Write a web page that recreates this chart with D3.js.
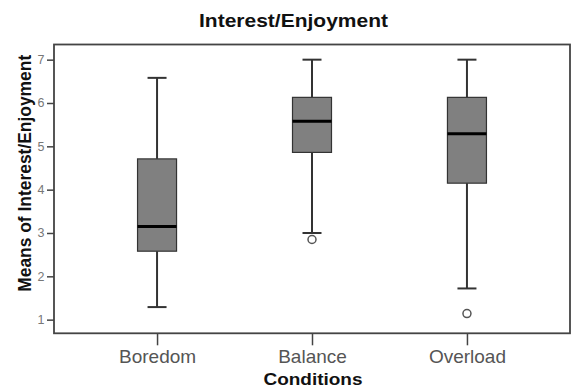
<!DOCTYPE html>
<html><head><meta charset="utf-8">
<script src="https://cdn.jsdelivr.net/npm/d3@7"></script>
<style>body{margin:0;background:#fff}svg{display:block}</style>
</head><body>
<script>
const categories = ["Boredom", "Balance", "Overload"];
const whiskerLow  = [1.29, 3.00, 1.72];
const q1          = [2.58, 4.86, 4.15];
const medians     = [3.15, 5.58, 5.29];
const q3          = [4.71, 6.13, 6.13];
const whiskerHigh = [6.58, 7.00, 7.00];
const outliers    = [[], [2.85], [1.14]];
const yTicks = [1, 2, 3, 4, 5, 6, 7];

const W = 571, H = 387;
const L = 54, R = 570, T = 44.5, B = 333.3;
const svg = d3.select("body").append("svg").attr("width", W).attr("height", H);

const x = d3.scalePoint().domain(categories).range([L, R]).padding(0.665);
const y = d3.scaleLinear().domain([0.685, 7.35]).range([B, T]);

const font = "'Liberation Sans', Arial, sans-serif";

// title
svg.append("text").attr("x", 199).attr("y", 27.3)
  .attr("textLength", 189).attr("lengthAdjust", "spacingAndGlyphs")
  .style("font", `bold 19px ${font}`).attr("fill", "#111").text("Interest/Enjoyment");

// frame
svg.append("rect").attr("x", L).attr("y", T).attr("width", R - L).attr("height", B - T)
  .attr("fill", "none").attr("stroke", "#444").attr("stroke-width", 1.8);

// y axis
const yAxis = svg.append("g").attr("transform", `translate(${L},0)`)
  .call(d3.axisLeft(y).tickValues(yTicks).tickSize(7).tickPadding(2.5).tickFormat(d3.format("d")));
yAxis.select(".domain").remove();
yAxis.selectAll(".tick line").attr("stroke", "#444").attr("stroke-width", 1.5);
yAxis.selectAll(".tick text").style("font", `12.5px ${font}`).attr("fill", "#777");

// x axis
const xAxis = svg.append("g").attr("transform", `translate(0,${B})`)
  .call(d3.axisBottom(x).tickSize(12).tickPadding(4));
xAxis.select(".domain").remove();
xAxis.selectAll(".tick line").attr("stroke", "#444").attr("stroke-width", 1.5);
xAxis.selectAll(".tick text").style("font", `19px ${font}`).attr("fill", "#555");

// axis titles
svg.append("text").attr("x", 313).attr("y", 384.5).attr("text-anchor", "middle")
  .attr("textLength", 99).attr("lengthAdjust", "spacingAndGlyphs")
  .style("font", `bold 16.5px ${font}`).attr("fill", "#111").text("Conditions");
svg.append("text").attr("transform", `translate(31,173.3) rotate(-90)`).attr("text-anchor", "middle")
  .attr("textLength", 237).attr("lengthAdjust", "spacingAndGlyphs")
  .style("font", `bold 18px ${font}`).attr("fill", "#111").text("Means of Interest/Enjoyment");

// boxes
const bw = 39, cw = 19;
const g = svg.append("g");
categories.forEach((c, i) => {
  const cx = x(c);
  g.append("line").attr("x1", cx).attr("x2", cx).attr("y1", y(whiskerHigh[i])).attr("y2", y(q3[i]))
    .attr("stroke", "#333").attr("stroke-width", 2);
  g.append("line").attr("x1", cx).attr("x2", cx).attr("y1", y(q1[i])).attr("y2", y(whiskerLow[i]))
    .attr("stroke", "#333").attr("stroke-width", 2);
  [whiskerHigh[i], whiskerLow[i]].forEach(v => {
    g.append("line").attr("x1", cx - cw / 2).attr("x2", cx + cw / 2).attr("y1", y(v)).attr("y2", y(v))
      .attr("stroke", "#333").attr("stroke-width", 2);
  });
  g.append("rect").attr("x", cx - bw / 2).attr("y", y(q3[i])).attr("width", bw)
    .attr("height", y(q1[i]) - y(q3[i])).attr("fill", "#808080").attr("stroke", "#333").attr("stroke-width", 1.2);
  g.append("line").attr("x1", cx - bw / 2).attr("x2", cx + bw / 2).attr("y1", y(medians[i])).attr("y2", y(medians[i]))
    .attr("stroke", "#000").attr("stroke-width", 3);
  outliers[i].forEach(v => {
    g.append("circle").attr("cx", cx).attr("cy", y(v)).attr("r", 4)
      .attr("fill", "#fff").attr("stroke", "#555").attr("stroke-width", 1.5);
  });
});
</script>
</body></html>
